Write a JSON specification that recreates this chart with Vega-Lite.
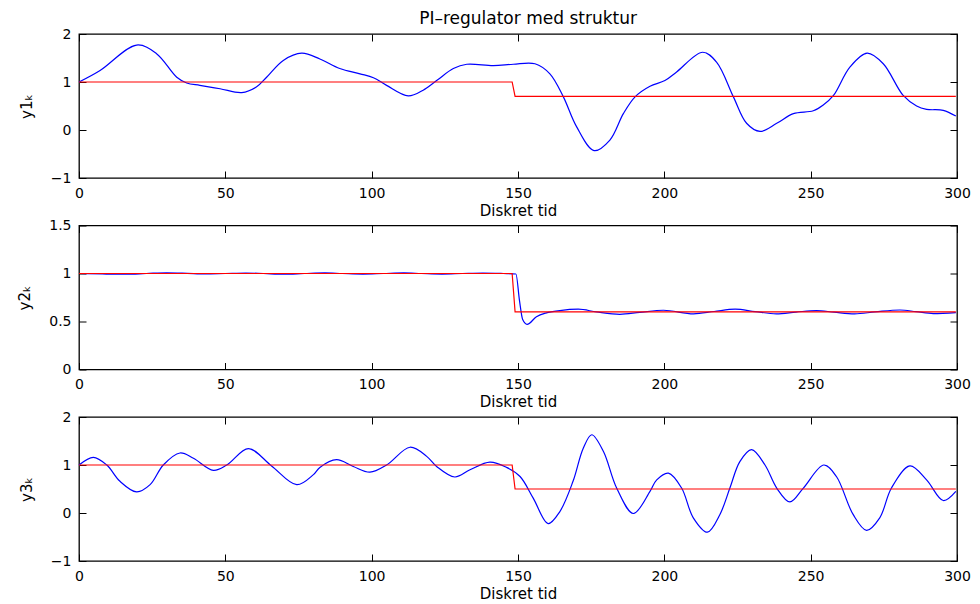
{
  "$schema": "https://vega.github.io/schema/vega-lite/v6.json",
  "background": "white",
  "padding": {"left": 17, "top": 9, "right": 5, "bottom": 5},
  "bounds": "flush",
  "spacing": 47.5,
  "title": {"text": "PI–regulator med struktur", "font": "DejaVu Sans", "fontSize": 17, "fontWeight": "normal", "color": "black", "anchor": "middle", "offset": -1.5, "dx": 34},
  "datasets": {
    "p1": [
      {"k": 0, "v": 1.0, "s": "y"}, {"k": 7.2, "v": 1.24, "s": "y"}, {"k": 19.7, "v": 1.77, "s": "y"}, {"k": 26.5, "v": 1.59, "s": "y"},
      {"k": 33.4, "v": 1.10, "s": "y"}, {"k": 36.8, "v": 0.98, "s": "y"}, {"k": 41.3, "v": 0.93, "s": "y"}, {"k": 48.2, "v": 0.86, "s": "y"},
      {"k": 55.6, "v": 0.78, "s": "y"}, {"k": 60.7, "v": 0.90, "s": "y"}, {"k": 64.1, "v": 1.10, "s": "y"}, {"k": 69.8, "v": 1.45, "s": "y"},
      {"k": 76.1, "v": 1.60, "s": "y"}, {"k": 82.3, "v": 1.48, "s": "y"}, {"k": 89.1, "v": 1.28, "s": "y"}, {"k": 96.0, "v": 1.17, "s": "y"},
      {"k": 100.6, "v": 1.09, "s": "y"}, {"k": 105.1, "v": 0.93, "s": "y"}, {"k": 112.5, "v": 0.71, "s": "y"}, {"k": 117.6, "v": 0.83, "s": "y"},
      {"k": 122.2, "v": 1.03, "s": "y"}, {"k": 127.9, "v": 1.28, "s": "y"}, {"k": 132.5, "v": 1.37, "s": "y"}, {"k": 141.6, "v": 1.34, "s": "y"},
      {"k": 148.4, "v": 1.37, "s": "y"}, {"k": 155.8, "v": 1.38, "s": "y"}, {"k": 160.9, "v": 1.17, "s": "y"}, {"k": 165.5, "v": 0.69, "s": "y"},
      {"k": 170.0, "v": 0.07, "s": "y"}, {"k": 176.0, "v": -0.43, "s": "y"}, {"k": 181.4, "v": -0.21, "s": "y"}, {"k": 186.0, "v": 0.34, "s": "y"},
      {"k": 190.0, "v": 0.69, "s": "y"}, {"k": 195.1, "v": 0.91, "s": "y"}, {"k": 200.2, "v": 1.03, "s": "y"}, {"k": 204.2, "v": 1.21, "s": "y"},
      {"k": 213.1, "v": 1.62, "s": "y"}, {"k": 217.9, "v": 1.41, "s": "y"}, {"k": 223.6, "v": 0.69, "s": "y"}, {"k": 228.1, "v": 0.14, "s": "y"},
      {"k": 232.7, "v": -0.03, "s": "y"}, {"k": 238.4, "v": 0.14, "s": "y"}, {"k": 244.1, "v": 0.34, "s": "y"}, {"k": 250.9, "v": 0.40, "s": "y"},
      {"k": 254.3, "v": 0.52, "s": "y"}, {"k": 257.8, "v": 0.72, "s": "y"}, {"k": 263.4, "v": 1.31, "s": "y"}, {"k": 269.3, "v": 1.60, "s": "y"},
      {"k": 274.8, "v": 1.38, "s": "y"}, {"k": 281.6, "v": 0.72, "s": "y"}, {"k": 286.2, "v": 0.50, "s": "y"}, {"k": 289.6, "v": 0.43, "s": "y"},
      {"k": 295.3, "v": 0.41, "s": "y"}, {"k": 299.6, "v": 0.29, "s": "y"},
      {"k": 0, "v": 1.0, "s": "r"}, {"k": 148, "v": 1.0, "s": "r"}, {"k": 149, "v": 0.7, "s": "r"}, {"k": 299.6, "v": 0.7, "s": "r"}
    ],
    "p2": [
      {"k": 0, "v": 1.0, "s": "y"}, {"k": 8, "v": 0.995, "s": "y"}, {"k": 16, "v": 0.992, "s": "y"}, {"k": 23, "v": 1.0, "s": "y"},
      {"k": 30, "v": 1.008, "s": "y"}, {"k": 37, "v": 1.002, "s": "y"}, {"k": 43, "v": 0.995, "s": "y"}, {"k": 50, "v": 1.0, "s": "y"},
      {"k": 57, "v": 1.005, "s": "y"}, {"k": 63, "v": 1.0, "s": "y"}, {"k": 70, "v": 0.993, "s": "y"}, {"k": 77, "v": 1.0, "s": "y"},
      {"k": 84, "v": 1.006, "s": "y"}, {"k": 90, "v": 1.0, "s": "y"}, {"k": 97, "v": 0.994, "s": "y"}, {"k": 104, "v": 1.0, "s": "y"},
      {"k": 111, "v": 1.006, "s": "y"}, {"k": 117, "v": 1.0, "s": "y"}, {"k": 124, "v": 0.994, "s": "y"}, {"k": 131, "v": 1.0, "s": "y"},
      {"k": 138, "v": 1.005, "s": "y"}, {"k": 145, "v": 1.0, "s": "y"}, {"k": 149.3, "v": 0.995, "s": "y"}, {"k": 150.5, "v": 0.72, "s": "y"},
      {"k": 151.6, "v": 0.52, "s": "y"}, {"k": 153.1, "v": 0.47, "s": "y"}, {"k": 156.3, "v": 0.55, "s": "y"}, {"k": 159.7, "v": 0.59, "s": "y"},
      {"k": 164.3, "v": 0.614, "s": "y"}, {"k": 170.6, "v": 0.628, "s": "y"}, {"k": 176.8, "v": 0.60, "s": "y"}, {"k": 184.8, "v": 0.575, "s": "y"},
      {"k": 191.6, "v": 0.595, "s": "y"}, {"k": 199.7, "v": 0.617, "s": "y"}, {"k": 210, "v": 0.58, "s": "y"}, {"k": 217, "v": 0.604, "s": "y"},
      {"k": 224.2, "v": 0.628, "s": "y"}, {"k": 231, "v": 0.603, "s": "y"}, {"k": 238.3, "v": 0.58, "s": "y"}, {"k": 245, "v": 0.598, "s": "y"},
      {"k": 252, "v": 0.614, "s": "y"}, {"k": 258, "v": 0.597, "s": "y"}, {"k": 265, "v": 0.58, "s": "y"}, {"k": 272, "v": 0.6, "s": "y"},
      {"k": 280.5, "v": 0.62, "s": "y"}, {"k": 286, "v": 0.603, "s": "y"}, {"k": 291.9, "v": 0.583, "s": "y"}, {"k": 299.6, "v": 0.593, "s": "y"},
      {"k": 0, "v": 1.0, "s": "r"}, {"k": 148, "v": 1.0, "s": "r"}, {"k": 149, "v": 0.6, "s": "r"}, {"k": 299.6, "v": 0.6, "s": "r"}
    ],
    "p3": [
      {"k": 0, "v": 1.0, "s": "y"}, {"k": 4.9, "v": 1.16, "s": "y"}, {"k": 9.5, "v": 1.0, "s": "y"}, {"k": 14.0, "v": 0.66, "s": "y"},
      {"k": 19.7, "v": 0.44, "s": "y"}, {"k": 24.3, "v": 0.59, "s": "y"}, {"k": 28.8, "v": 1.0, "s": "y"}, {"k": 34.5, "v": 1.25, "s": "y"},
      {"k": 39.1, "v": 1.14, "s": "y"}, {"k": 45.9, "v": 0.89, "s": "y"}, {"k": 50.5, "v": 1.0, "s": "y"}, {"k": 57.9, "v": 1.34, "s": "y"},
      {"k": 65.8, "v": 0.98, "s": "y"}, {"k": 74.4, "v": 0.59, "s": "y"}, {"k": 80.1, "v": 0.80, "s": "y"}, {"k": 82.3, "v": 0.95, "s": "y"},
      {"k": 88.0, "v": 1.11, "s": "y"}, {"k": 93.7, "v": 0.97, "s": "y"}, {"k": 99.4, "v": 0.85, "s": "y"}, {"k": 105.1, "v": 1.0, "s": "y"},
      {"k": 113.1, "v": 1.37, "s": "y"}, {"k": 118.8, "v": 1.18, "s": "y"}, {"k": 122.2, "v": 0.97, "s": "y"}, {"k": 128.4, "v": 0.75, "s": "y"},
      {"k": 133.6, "v": 0.90, "s": "y"}, {"k": 140.4, "v": 1.06, "s": "y"}, {"k": 146.1, "v": 0.95, "s": "y"}, {"k": 150.7, "v": 0.76, "s": "y"},
      {"k": 155.2, "v": 0.31, "s": "y"}, {"k": 160.3, "v": -0.22, "s": "y"}, {"k": 164.3, "v": 0.03, "s": "y"}, {"k": 168.8, "v": 0.66, "s": "y"},
      {"k": 172.3, "v": 1.35, "s": "y"}, {"k": 175.2, "v": 1.63, "s": "y"}, {"k": 179.2, "v": 1.28, "s": "y"}, {"k": 183.7, "v": 0.52, "s": "y"},
      {"k": 189.4, "v": -0.01, "s": "y"}, {"k": 195.1, "v": 0.45, "s": "y"}, {"k": 197.4, "v": 0.69, "s": "y"}, {"k": 201.4, "v": 0.83, "s": "y"},
      {"k": 205.9, "v": 0.52, "s": "y"}, {"k": 209.9, "v": -0.10, "s": "y"}, {"k": 214.7, "v": -0.40, "s": "y"}, {"k": 219.0, "v": -0.03, "s": "y"},
      {"k": 222.4, "v": 0.52, "s": "y"}, {"k": 225.8, "v": 1.07, "s": "y"}, {"k": 229.8, "v": 1.32, "s": "y"}, {"k": 234.4, "v": 1.0, "s": "y"},
      {"k": 238.4, "v": 0.52, "s": "y"}, {"k": 242.9, "v": 0.23, "s": "y"}, {"k": 247.5, "v": 0.52, "s": "y"}, {"k": 254.5, "v": 1.0, "s": "y"},
      {"k": 258.8, "v": 0.76, "s": "y"}, {"k": 264.5, "v": -0.03, "s": "y"}, {"k": 269.1, "v": -0.36, "s": "y"}, {"k": 273.6, "v": -0.10, "s": "y"},
      {"k": 277.6, "v": 0.52, "s": "y"}, {"k": 283.9, "v": 0.98, "s": "y"}, {"k": 289.6, "v": 0.69, "s": "y"}, {"k": 295.3, "v": 0.26, "s": "y"},
      {"k": 299.6, "v": 0.45, "s": "y"},
      {"k": 0, "v": 1.0, "s": "r"}, {"k": 148, "v": 1.0, "s": "r"}, {"k": 149, "v": 0.5, "s": "r"}, {"k": 299.6, "v": 0.5, "s": "r"}
    ]
  },
  "vconcat": [
    {
      "width": 878, "height": 144,
      "data": {"name": "p1"},
      "layer": [
        {
          "transform": [{"filter": "datum.s === 'y'"}],
          "mark": {"type": "line", "color": "#0000ff", "strokeWidth": 1.2, "interpolate": "catmull-rom"},
          "encoding": {
            "x": {"field": "k", "type": "quantitative", "scale": {"domain": [0, 300], "nice": false}, "axis": {"orient": "bottom", "values": [0, 50, 100, 150, 200, 250, 300], "title": "Diskret tid"}},
            "y": {"field": "v", "type": "quantitative", "scale": {"domain": [-1, 2], "nice": false, "zero": false}, "axis": {"orient": "left", "values": [-1, 0, 1, 2], "title": "y1ₖ"}}
          }
        },
        {
          "transform": [{"filter": "datum.s === 'r'"}],
          "mark": {"type": "line", "color": "#ff0000", "strokeWidth": 1.2},
          "encoding": {
            "x": {"field": "k", "type": "quantitative", "scale": {"domain": [0, 300], "nice": false}, "axis": {"orient": "top", "values": [0, 50, 100, 150, 200, 250, 300], "labels": false, "title": null}},
            "y": {"field": "v", "type": "quantitative", "scale": {"domain": [-1, 2], "nice": false, "zero": false}, "axis": {"orient": "right", "values": [-1, 0, 1, 2], "labels": false, "title": null}}
          }
        }
      ],
      "resolve": {"axis": {"x": "independent", "y": "independent"}}
    },
    {
      "width": 878, "height": 144,
      "data": {"name": "p2"},
      "layer": [
        {
          "transform": [{"filter": "datum.s === 'y'"}],
          "mark": {"type": "line", "color": "#0000ff", "strokeWidth": 1.2, "interpolate": "monotone"},
          "encoding": {
            "x": {"field": "k", "type": "quantitative", "scale": {"domain": [0, 300], "nice": false}, "axis": {"orient": "bottom", "values": [0, 50, 100, 150, 200, 250, 300], "title": "Diskret tid"}},
            "y": {"field": "v", "type": "quantitative", "scale": {"domain": [0, 1.5], "nice": false, "zero": false}, "axis": {"orient": "left", "values": [0, 0.5, 1, 1.5], "title": "y2ₖ"}}
          }
        },
        {
          "transform": [{"filter": "datum.s === 'r'"}],
          "mark": {"type": "line", "color": "#ff0000", "strokeWidth": 1.2},
          "encoding": {
            "x": {"field": "k", "type": "quantitative", "scale": {"domain": [0, 300], "nice": false}, "axis": {"orient": "top", "values": [0, 50, 100, 150, 200, 250, 300], "labels": false, "title": null}},
            "y": {"field": "v", "type": "quantitative", "scale": {"domain": [0, 1.5], "nice": false, "zero": false}, "axis": {"orient": "right", "values": [0, 0.5, 1, 1.5], "labels": false, "title": null}}
          }
        }
      ],
      "resolve": {"axis": {"x": "independent", "y": "independent"}}
    },
    {
      "width": 878, "height": 144,
      "data": {"name": "p3"},
      "layer": [
        {
          "transform": [{"filter": "datum.s === 'y'"}],
          "mark": {"type": "line", "color": "#0000ff", "strokeWidth": 1.2, "interpolate": "catmull-rom"},
          "encoding": {
            "x": {"field": "k", "type": "quantitative", "scale": {"domain": [0, 300], "nice": false}, "axis": {"orient": "bottom", "values": [0, 50, 100, 150, 200, 250, 300], "title": "Diskret tid"}},
            "y": {"field": "v", "type": "quantitative", "scale": {"domain": [-1, 2], "nice": false, "zero": false}, "axis": {"orient": "left", "values": [-1, 0, 1, 2], "title": "y3ₖ"}}
          }
        },
        {
          "transform": [{"filter": "datum.s === 'r'"}],
          "mark": {"type": "line", "color": "#ff0000", "strokeWidth": 1.2},
          "encoding": {
            "x": {"field": "k", "type": "quantitative", "scale": {"domain": [0, 300], "nice": false}, "axis": {"orient": "top", "values": [0, 50, 100, 150, 200, 250, 300], "labels": false, "title": null}},
            "y": {"field": "v", "type": "quantitative", "scale": {"domain": [-1, 2], "nice": false, "zero": false}, "axis": {"orient": "right", "values": [-1, 0, 1, 2], "labels": false, "title": null}}
          }
        }
      ],
      "resolve": {"axis": {"x": "independent", "y": "independent"}}
    }
  ],
  "config": {
    "view": {"stroke": "black", "strokeWidth": 1.3},
    "axis": {
      "labelFont": "DejaVu Sans", "titleFont": "DejaVu Sans",
      "labelFontSize": 14, "titleFontSize": 15, "titleFontWeight": "normal",
      "labelColor": "black", "titleColor": "black",
      "domain": false, "grid": false, "labelFlush": false,
      "ticks": true, "tickColor": "black", "tickWidth": 1, "tickSize": -7,
      "format": "~r"
    },
    "axisX": {"labelPadding": 15, "titlePadding": 3},
    "axisY": {"labelPadding": 15, "titlePadding": 16}
  }
}
